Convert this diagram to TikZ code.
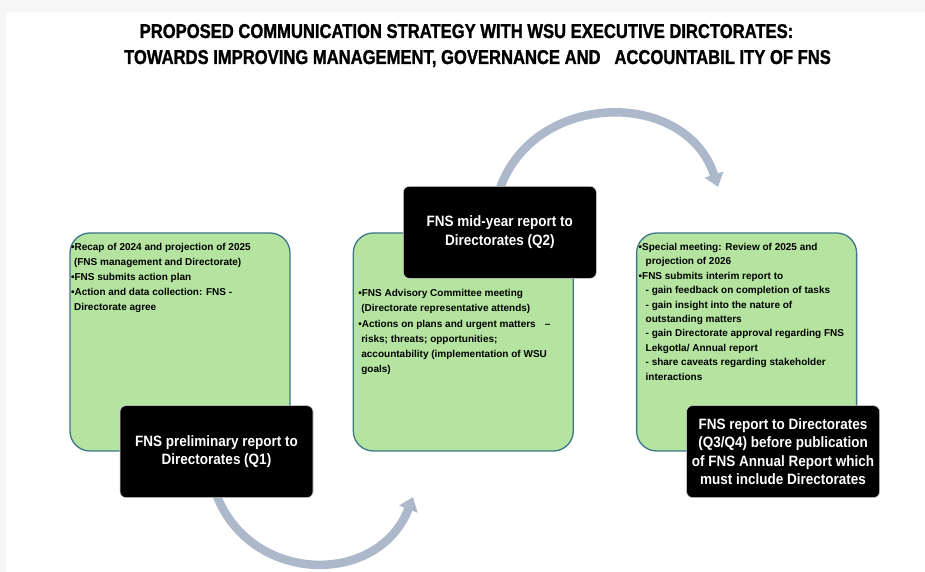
\documentclass[tikz,border=0pt]{standalone}
\usepackage{fontspec}
\setmainfont{Liberation Sans}
\newfontfamily\titlefont[FakeStretch=0.83, FakeBold=1.2]{Liberation Sans Bold}
\newfontfamily\reportfont[FakeStretch=0.9]{Liberation Sans Bold}
\usetikzlibrary{positioning, arrows.meta, backgrounds}
\definecolor{boxgreen}{RGB}{180,228,160}
\definecolor{boxedge}{RGB}{60,118,136}
\definecolor{arrowgray}{RGB}{173,185,202}
\tikzset{
  greenbox/.style={draw=boxedge, line width=1.3pt, fill=boxgreen,
    rounded corners=20pt, minimum width=220pt, minimum height=218pt, inner sep=0pt},
  reportbox/.style={draw=gray!35, line width=0.6pt, fill=black, text=white,
    rounded corners=6pt, minimum width=193pt, minimum height=92pt, inner sep=0pt,
    align=center, font=\reportfont\fontsize{15}{18.5}\selectfont},
  bullets/.style={anchor=north west, inner sep=0pt, align=left,
    font=\bfseries\fontsize{10}{#1}\selectfont},
  bullets/.default=14.9,
  titletext/.style={anchor=base, inner sep=0pt,
    font=\titlefont\fontsize{20}{26}\selectfont},
  flowarrow/.style={draw=arrowgray, line width=8.5pt,
    -{Triangle[width=19pt,length=13pt]}}
}

\begin{document}
\begin{tikzpicture}[x=1pt,y=1pt]
  \useasboundingbox (0,0) rectangle (925,572);
  \fill[gray!7] (0,0) rectangle (6,572);
  \fill[gray!7] (0,560) rectangle (925,572);
  % title
  \node[titletext] (title1) at (466.5,534) {PROPOSED COMMUNICATION STRATEGY WITH WSU EXECUTIVE DIRCTORATES:};
  \node[titletext] (title2) at (477.5,508) {TOWARDS IMPROVING MANAGEMENT, GOVERNANCE AND\ \ \ ACCOUNTABIL ITY OF FNS};
  % quarters
  \node[greenbox] (g1) at (180,230) {};
  \node[greenbox, right=62pt of g1] (g2) {};
  \node[greenbox, right=62pt of g2] (g3) {};
  \node[reportbox] (b1) at ([xshift=36.5pt]g1.south) {FNS preliminary report to\\Directorates (Q1)};
  \node[reportbox] (b2) at ([xshift=36.5pt]g2.north) {FNS mid-year report to\\Directorates (Q2)};
  \node[reportbox] (b3) at ([xshift=36.5pt]g3.south) {FNS report to Directorates\\(Q3/Q4) before publication\\of FNS Annual Report which\\must include Directorates};
  % box texts
  \node[bullets] (g1txt) at ([xshift=1.5pt,yshift=-10.7pt]g1.north west) {%
    \textbullet Recap of 2024 and projection of 2025\\
    \hspace*{3pt}(FNS management and Directorate)\\
    \textbullet FNS submits action plan\\
    \textbullet Action and data collection: FNS -\\
    \hspace*{3pt}Directorate agree};
  \node[bullets] (g2txt) at ([xshift=5.5pt,yshift=-56.7pt]g2.north west) {%
    \textbullet FNS Advisory Committee meeting\\
    \hspace*{3pt}(Directorate representative attends)\\[1.5pt]
    \textbullet Actions on plans and urgent matters\hspace{9pt}–\\
    \hspace*{3pt}risks; threats; opportunities;\\
    \hspace*{3pt}accountability (implementation of WSU\\
    \hspace*{3pt}goals)};
  \node[bullets=14.4] (g3txt) at ([xshift=2.5pt,yshift=-10.7pt]g3.north west) {%
    \textbullet Special meeting: Review of 2025 and\\
    \hspace*{7pt}projection of 2026\\
    \textbullet FNS submits interim report to\\
    \hspace*{7pt}- gain feedback on completion of tasks\\
    \hspace*{7pt}- gain insight into the nature of\\
    \hspace*{7pt}outstanding matters\\
    \hspace*{7pt}- gain Directorate approval regarding FNS\\
    \hspace*{7pt}Lekgotla/ Annual report\\
    \hspace*{7pt}- share caveats regarding stakeholder\\
    \hspace*{7pt}interactions};
  % arrows
  \coordinate (t1) at (413,75);
  \coordinate (t2) at (718,385);
  \begin{scope}[on background layer]
    \draw[flowarrow] ([yshift=3pt]b1.south) to[out=-69, in=-111, looseness=1.25] (t1);
    \draw[flowarrow] ([yshift=-3pt]b2.north) to[out=71, in=108, looseness=1.22] (t2);
  \end{scope}
\end{tikzpicture}
\end{document}
